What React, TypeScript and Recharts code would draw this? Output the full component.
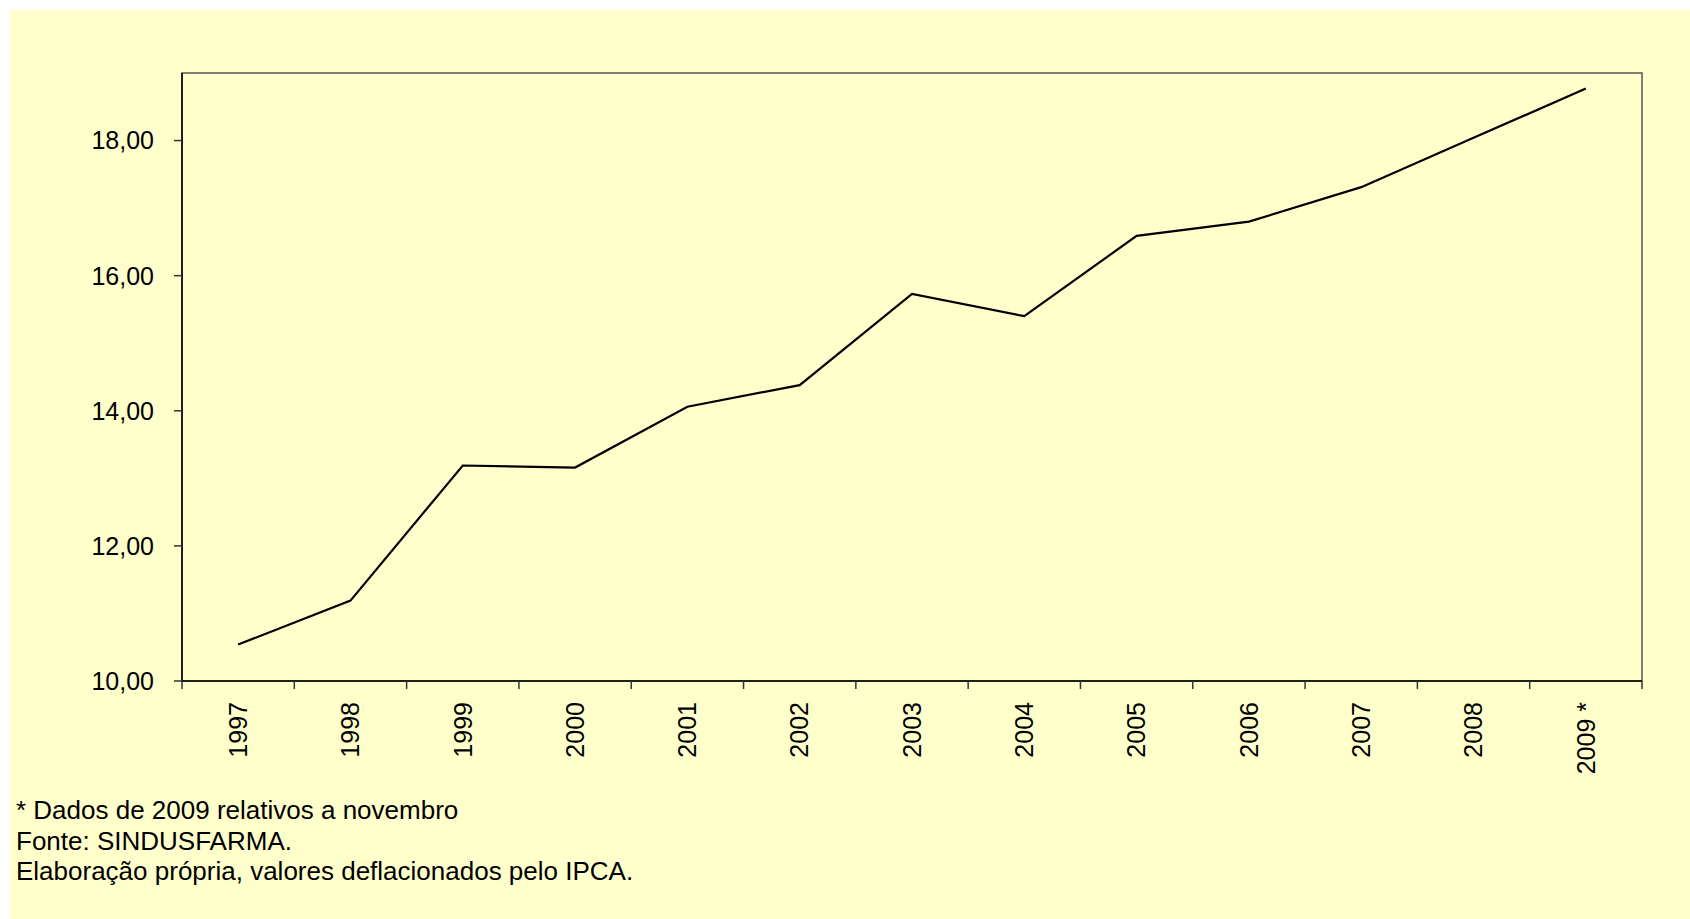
import React from 'react';
import { LineChart, Line, XAxis, YAxis, ReferenceArea } from 'recharts';

const years = ['1997', '1998', '1999', '2000', '2001', '2002', '2003', '2004', '2005', '2006', '2007', '2008', '2009 *'];
const values = [10.54, 11.19, 13.19, 13.16, 14.06, 14.38, 15.73, 15.4, 16.59, 16.8, 17.31, 18.04, 18.77];
const yTicks = [10, 12, 14, 16, 18];
const notes = [
  '* Dados de 2009 relativos a novembro',
  'Fonte: SINDUSFARMA.',
  'Elaboração própria, valores deflacionados pelo IPCA.',
];

const data = years.map((year, i) => ({ year, value: values[i] }));

const FONT = '"Liberation Sans", Arial, sans-serif';

const XTick = (props: any) => {
  const { x, y, payload, index, visibleTicksCount } = props;
  const off = payload && typeof payload.offset === 'number' ? payload.offset : 0;
  const ty = y + 21;
  return (
    <g>
      <line x1={x - off} x2={x - off} y1={y} y2={y + 8} stroke="#333" strokeWidth={1.5} />
      {index === visibleTicksCount - 1 && (
        <line x1={x + off} x2={x + off} y1={y} y2={y + 8} stroke="#333" strokeWidth={1.5} />
      )}
      <text
        x={x}
        y={ty}
        transform={`rotate(-90, ${x}, ${ty})`}
        textAnchor="end"
        dy="0.35em"
        fontSize={25}
        fontFamily={FONT}
        fill="#000"
      >
        {payload.value}
      </text>
    </g>
  );
};

export default function App() {
  return (
    <div style={{ position: 'absolute', left: 0, top: 0, width: 1690, height: 919, background: '#fff', overflow: 'hidden' }}>
      <div style={{ position: 'absolute', left: 10, top: 10, width: 1680, height: 909, background: '#FFFFCC' }} />
      <div style={{ position: 'absolute', left: 0, top: 0 }}>
        <LineChart width={1690} height={919} data={data} margin={{ top: 73, right: 48, left: 0, bottom: 0 }}>
          <ReferenceArea
            y1={10}
            y2={19}
            fill="none"
            fillOpacity={0}
            stroke="#555"
            strokeWidth={1.5}
            ifOverflow="visible"
          />
          <XAxis
            dataKey="year"
            scale="band"
            height={238}
            interval={0}
            tickSize={0}
            tickMargin={0}
            tickLine={false}
            axisLine={{ stroke: '#000', strokeWidth: 1.5 }}
            tick={<XTick />}
          />
          <YAxis
            type="number"
            domain={[10, 19]}
            ticks={yTicks}
            width={182}
            tickSize={8}
            tickMargin={20}
            tickFormatter={(v: number) => v.toFixed(2).replace('.', ',')}
            tick={{ fontSize: 25, fontFamily: FONT, fill: '#000' }}
            tickLine={{ stroke: '#333', strokeWidth: 1.5 }}
            axisLine={{ stroke: '#000', strokeWidth: 1.5 }}
          />
          <Line
            type="linear"
            dataKey="value"
            stroke="#000"
            strokeWidth={2.2}
            dot={false}
            activeDot={false}
            isAnimationActive={false}
          />
        </LineChart>
      </div>
      {notes.map((t, i) => (
        <div
          key={i}
          style={{
            position: 'absolute',
            left: 16,
            top: 795 + i * 30.5,
            fontFamily: FONT,
            fontSize: 26,
            lineHeight: '30px',
            color: '#000',
            whiteSpace: 'nowrap',
          }}
        >
          {t}
        </div>
      ))}
    </div>
  );
}
